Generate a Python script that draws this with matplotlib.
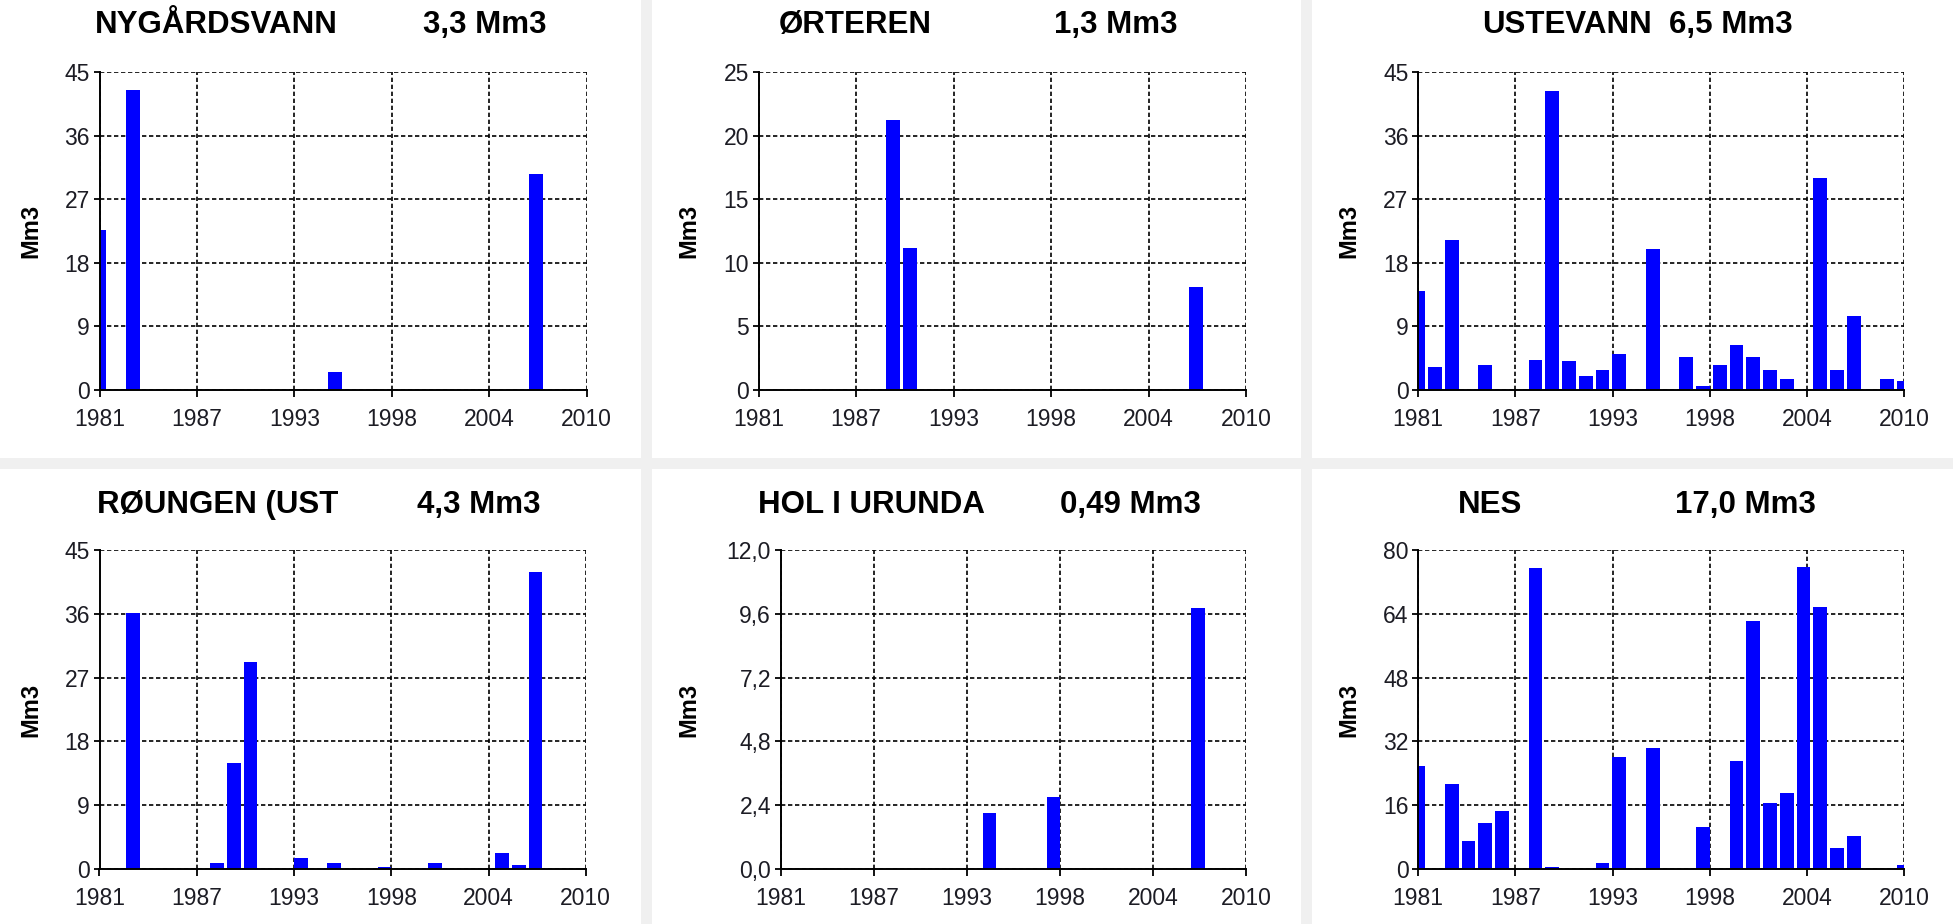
import matplotlib
matplotlib.use("Agg")
import matplotlib.pyplot as plt
import numpy as np

# Data (Mm3 per year, only non-zero years)
nygardsvann_years = [1981, 1983, 1995, 2007]
nygardsvann_vals = [22.6, 42.5, 2.6, 30.5]

orteren_years = [1989, 1990, 2007]
orteren_vals = [21.2, 11.2, 8.1]

ustevann_years = [1981, 1982, 1983, 1985, 1988, 1989, 1990, 1991, 1992, 1993, 1995, 1997,
                  1998, 1999, 2000, 2001, 2002, 2003, 2005, 2006, 2007, 2009, 2010]
ustevann_vals = [14.0, 3.3, 21.2, 3.5, 4.3, 42.3, 4.1, 2.0, 2.8, 5.1, 19.9, 4.6,
                 0.5, 3.5, 6.4, 4.6, 2.8, 1.6, 30.0, 2.8, 10.5, 1.6, 1.3]

roungen_years = [1983, 1988, 1989, 1990, 1993, 1995, 1998, 2001, 2005, 2006, 2007]
roungen_vals = [36.1, 0.8, 15.0, 29.2, 1.6, 0.8, 0.3, 0.8, 2.3, 0.6, 41.9]

hol_years = [1994, 1998, 2007]
hol_vals = [2.12, 2.72, 9.83]

nes_years = [1981, 1983, 1984, 1985, 1986, 1988, 1989, 1992, 1993, 1995, 1998, 2000,
             2001, 2002, 2003, 2004, 2005, 2006, 2007, 2010]
nes_vals = [25.8, 21.4, 6.9, 11.5, 14.5, 75.4, 0.6, 1.4, 28.2, 30.4, 10.5, 27.2,
            62.3, 16.5, 19.1, 75.8, 65.6, 5.2, 8.3, 1.0]

names = ["NYGÅRDSVANN", "ØRTEREN", "USTEVANN", "RØUNGEN (UST", "HOL I URUNDA", "NES"]
volumes = ["3,3 Mm3", "1,3 Mm3", "6,5 Mm3", "4,3 Mm3", "0,49 Mm3", "17,0 Mm3"]
y_max = [45, 25, 45, 45, 12.0, 80]
x_labels = ["1981", "1987", "1993", "1998", "2004", "2010"]

series = [(nygardsvann_years, nygardsvann_vals), (orteren_years, orteren_vals),
          (ustevann_years, ustevann_vals), (roungen_years, roungen_vals),
          (hol_years, hol_vals), (nes_years, nes_vals)]

W, H = 1953, 924
fig = plt.figure(figsize=(W / 100, H / 100), dpi=100)
fig.patch.set_facecolor("#f0f0f0")

# white panel backgrounds (px: x0, y0, x1, y1 from top-left)
panels = [(0, 0, 641, 458), (652, 0, 1301, 458), (1312, 0, 1953, 458),
          (0, 469, 641, 924), (652, 469, 1301, 924), (1312, 469, 1953, 924)]
for x0, y0, x1, y1 in panels:
    fig.patches.append(plt.Rectangle((x0 / W, 1 - y1 / H), (x1 - x0) / W, (y1 - y0) / H,
                                     transform=fig.transFigure, facecolor="white",
                                     edgecolor="none", zorder=-5))

# axes boxes in px (left, right, top, bottom)
axes_px = [(99.5, 586.6, 72, 390), (758.6, 1246.2, 72, 390), (1418.2, 1904, 72, 390),
           (99.5, 585.8, 550, 869), (780.6, 1246.2, 550, 869), (1418.2, 1904, 550, 869)]
name_pos = [(94.5, 33), (779, 33), (1482, 33), (97, 513), (758, 513), (1457.5, 513)]
vol_pos = [(423, 33), (1054, 33), (1669, 33), (417, 513), (1060, 513), (1675, 513)]
ylabel_x = [31, 689, 1349, 31, 689, 1349]

tick_font = ["Liberation Sans", "DejaVu Sans"]
title_font = ["Liberation Sans", "DejaVu Sans"]

for i, (years, vals) in enumerate(series):
    l, r, t, b = axes_px[i]
    ax = fig.add_axes([l / W, 1 - b / H, (r - l) / W, (b - t) / H])
    ax.set_facecolor("white")
    ax.bar(years, vals, width=0.82, color="#0000ff", zorder=3)

    ax.set_xlim(1981, 2010)
    ax.set_ylim(0, y_max[i])
    ax.set_xticks(np.linspace(1981, 2010, 6))
    ax.set_xticklabels(x_labels)
    yt = np.linspace(0, y_max[i], 6)
    ax.set_yticks(yt)
    if i == 4:
        ax.set_yticklabels([f"{v:.1f}".replace(".", ",") for v in yt])
    else:
        ax.set_yticklabels([f"{v:.0f}" for v in yt])

    for lab in ax.get_xticklabels() + ax.get_yticklabels():
        lab.set_fontfamily(tick_font)
        lab.set_fontsize(16.5)
        lab.set_color("#1c1c24")

    ax.grid(True, color="black", linestyle=(0, (2.6, 1.6)), linewidth=1.2, zorder=1)
    ax.set_axisbelow(True)
    ax.spines["top"].set_visible(False)
    ax.spines["right"].set_visible(False)
    ax.spines["left"].set_linewidth(1.4)
    ax.spines["bottom"].set_linewidth(1.4)
    ax.spines["left"].set_zorder(4)
    ax.spines["bottom"].set_zorder(4)
    ax.tick_params(axis="x", length=5, width=1.3, pad=8)
    ax.tick_params(axis="y", length=4, width=1.3, pad=3)

    # title pieces and y label
    fig.text(name_pos[i][0] / W, 1 - name_pos[i][1] / H, names[i], fontsize=22.5,
             fontweight="bold", family=title_font, ha="left", va="baseline")
    fig.text(vol_pos[i][0] / W, 1 - vol_pos[i][1] / H, volumes[i], fontsize=22.5,
             fontweight="bold", family=title_font, ha="left", va="baseline")
    fig.text(ylabel_x[i] / W, 1 - (t + b) / 2 / H, "Mm3", fontsize=17, fontweight="bold",
             family=title_font, rotation=90, ha="center", va="center")

fig.savefig("out.png", dpi=100, facecolor=fig.get_facecolor())
